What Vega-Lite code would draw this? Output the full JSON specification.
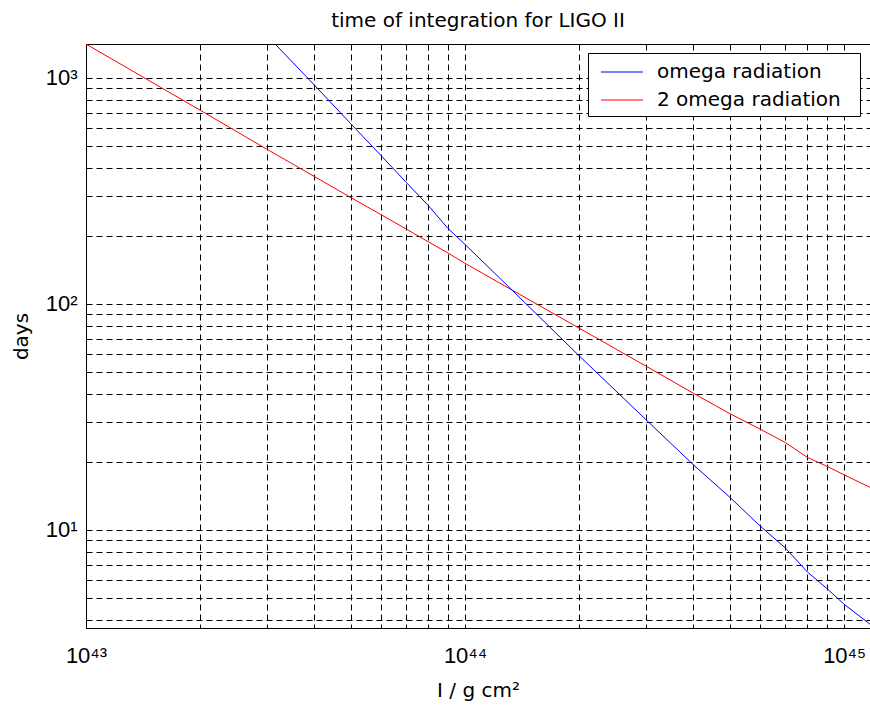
{
  "$schema": "https://vega.github.io/schema/vega-lite/v6.json",
  "autosize": {"type": "none"},
  "padding": {"left": 86, "top": 44, "right": 0, "bottom": 84},
  "width": 784,
  "height": 584,
  "background": "white",
  "config": {
    "font": "Liberation Sans",
    "view": {"stroke": "black", "strokeWidth": 1},
    "axis": {
      "domainColor": "black",
      "gridColor": "black",
      "gridOpacity": 1,
      "gridDash": [6, 4],
      "gridWidth": 1,
      "ticks": false,
      "labelColor": "black",
      "titleColor": "black",
      "labelFont": "Liberation Sans",
      "titleFont": "DejaVu Sans",
      "titleFontWeight": "normal"
    }
  },
  "title": {
    "text": "time of integration for LIGO II",
    "fontSize": 20,
    "fontWeight": "normal",
    "font": "DejaVu Sans",
    "color": "black",
    "offset": 13
  },
  "data": {
    "values": [
      {"x": 1e43, "y": 1410, "series": "2 omega radiation"},
      {"x": 2e43, "y": 719, "series": "2 omega radiation"},
      {"x": 3e43, "y": 483, "series": "2 omega radiation"},
      {"x": 4e43, "y": 366, "series": "2 omega radiation"},
      {"x": 5e43, "y": 295, "series": "2 omega radiation"},
      {"x": 6e43, "y": 248, "series": "2 omega radiation"},
      {"x": 7e43, "y": 214, "series": "2 omega radiation"},
      {"x": 8e43, "y": 188, "series": "2 omega radiation"},
      {"x": 9e43, "y": 168, "series": "2 omega radiation"},
      {"x": 1e44, "y": 151, "series": "2 omega radiation"},
      {"x": 1.33e44, "y": 115, "series": "2 omega radiation"},
      {"x": 2e44, "y": 78, "series": "2 omega radiation"},
      {"x": 3e44, "y": 53, "series": "2 omega radiation"},
      {"x": 4e44, "y": 40.2, "series": "2 omega radiation"},
      {"x": 5e44, "y": 32.6, "series": "2 omega radiation"},
      {"x": 6e44, "y": 27.9, "series": "2 omega radiation"},
      {"x": 7e44, "y": 24.3, "series": "2 omega radiation"},
      {"x": 8e44, "y": 20.9, "series": "2 omega radiation"},
      {"x": 9e44, "y": 19.1, "series": "2 omega radiation"},
      {"x": 1e45, "y": 17.5, "series": "2 omega radiation"},
      {"x": 1.17e45, "y": 15.4, "series": "2 omega radiation"},
      {"x": 3e43, "y": 1540, "series": "omega radiation"},
      {"x": 4e43, "y": 930, "series": "omega radiation"},
      {"x": 5e43, "y": 625, "series": "omega radiation"},
      {"x": 6e43, "y": 453, "series": "omega radiation"},
      {"x": 7e43, "y": 344, "series": "omega radiation"},
      {"x": 8e43, "y": 272, "series": "omega radiation"},
      {"x": 9e43, "y": 216, "series": "omega radiation"},
      {"x": 1e44, "y": 183, "series": "omega radiation"},
      {"x": 1.33e44, "y": 115, "series": "omega radiation"},
      {"x": 2e44, "y": 58.8, "series": "omega radiation"},
      {"x": 3e44, "y": 30.7, "series": "omega radiation"},
      {"x": 4e44, "y": 19.4, "series": "omega radiation"},
      {"x": 5e44, "y": 13.9, "series": "omega radiation"},
      {"x": 6e44, "y": 10.4, "series": "omega radiation"},
      {"x": 7e44, "y": 8.3, "series": "omega radiation"},
      {"x": 8e44, "y": 6.5, "series": "omega radiation"},
      {"x": 9e44, "y": 5.5, "series": "omega radiation"},
      {"x": 1e45, "y": 4.68, "series": "omega radiation"},
      {"x": 1.17e45, "y": 3.82, "series": "omega radiation"}
    ]
  },
  "mark": {"type": "line", "clip": true, "strokeWidth": 1},
  "encoding": {
    "x": {
      "field": "x",
      "type": "quantitative",
      "scale": {"type": "log", "domain": [1e43, 1.17e45], "nice": false},
      "axis": {
        "title": "I / g cm²",
        "titleFontSize": 20,
        "titlePadding": 14,
        "labelFontSize": 22,
        "labelPadding": 17,
        "values": [1e43, 2e43, 3e43, 4e43, 5e43, 6e43, 7e43, 8e43, 9e43, 1e44, 2e44, 3e44, 4e44, 5e44, 6e44, 7e44, 8e44, 9e44, 1e45],
        "labelExpr": "datum.value == 1e43 ? '10⁴³' : datum.value == 1e44 ? '10⁴⁴' : datum.value == 1e45 ? '10⁴⁵' : ''",
        "labelOverlap": false,
        "labelFlush": false
      }
    },
    "y": {
      "field": "y",
      "type": "quantitative",
      "scale": {"type": "log", "domain": [3.675, 1411], "nice": false},
      "axis": {
        "title": "days",
        "titleFontSize": 20,
        "titlePadding": 14,
        "labelFontSize": 22,
        "labelPadding": 9,
        "values": [4, 5, 6, 7, 8, 9, 10, 20, 30, 40, 50, 60, 70, 80, 90, 100, 200, 300, 400, 500, 600, 700, 800, 900, 1000],
        "labelExpr": "datum.value == 10 ? '10¹' : datum.value == 100 ? '10²' : datum.value == 1000 ? '10³' : ''",
        "labelOverlap": false,
        "labelFlush": false
      }
    },
    "color": {
      "field": "series",
      "type": "nominal",
      "scale": {"domain": ["omega radiation", "2 omega radiation"], "range": ["#0000ff", "#ff0000"]},
      "legend": {
        "title": null,
        "orient": "none",
        "legendX": 502,
        "legendY": 9,
        "symbolType": "M-1.75,0H1.75",
        "symbolSize": 576,
        "symbolOffset": 15,
        "symbolStrokeWidth": 1.2,
        "labelFontSize": 20,
        "labelFont": "DejaVu Sans",
        "labelColor": "black",
        "labelOffset": 22,
        "labelLimit": 400,
        "labelExpr": "datum.label + '\u00a0\u00a0\u200b'",
        "padding": 6,
        "rowPadding": 5,
        "strokeColor": "black",
        "fillColor": "white",
        "cornerRadius": 0
      }
    }
  }
}
